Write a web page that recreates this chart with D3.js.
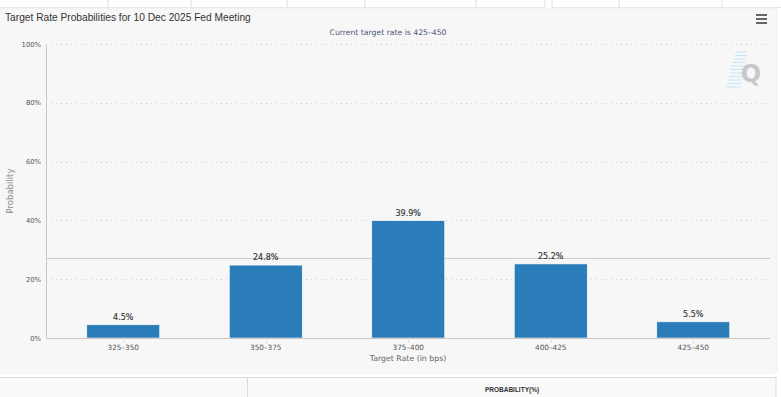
<!DOCTYPE html>
<html>
<head>
<meta charset="utf-8">
<script src="https://cdn.jsdelivr.net/npm/d3@7"></script>
<style>
  body { margin: 0; background: #fff; }
  svg { display: block; }
</style>
</head>
<body>
<div id="chart"></div>
<script>
const width = 781;
const height = 397;
const margin = { top: 44, right: 11, left: 46, bottom: 59 };

const rates = ['325-350', '350-375', '375-400', '400-425', '425-450'];
const probs = [4.5, 24.8, 39.9, 25.2, 5.5];
const yTicks = [0, 20, 40, 60, 80, 100];
const hoverLine = 27.3;
const topCells = [108, 191, 287, 365, 476, 545, 552, 619, 722];

const barColor = '#2a7db8';

const svg = d3.select('#chart')
    .append('svg')
    .attr('width', width)
    .attr('height', height);

// table strip above the chart
svg.append('rect').attr('x', 0).attr('y', 0).attr('width', width).attr('height', 8).attr('fill', '#fff');
svg.selectAll('line.cell')
    .data(topCells)
    .join('line')
    .attr('class', 'cell')
    .attr('x1', d => d).attr('x2', d => d)
    .attr('y1', 0).attr('y2', 7)
    .attr('stroke', '#ddd');
svg.append('line').attr('x1', 0).attr('x2', 545).attr('y1', 7.5).attr('y2', 7.5).attr('stroke', '#e4e4e4');
svg.append('line').attr('x1', 552).attr('x2', 781).attr('y1', 7.5).attr('y2', 7.5).attr('stroke', '#e4e4e4');

// chart panel
svg.append('rect')
    .attr('x', -2).attr('y', 8)
    .attr('width', 779).attr('height', 365)
    .attr('rx', 3)
    .attr('fill', '#f7f7f7')
    .attr('stroke', '#eeeeee');

// table below
svg.append('rect')
    .attr('x', -2).attr('y', 377.5)
    .attr('width', 778).attr('height', 30)
    .attr('fill', '#f9f9f9')
    .attr('stroke', '#dcdcdc');
svg.append('line').attr('x1', 247.5).attr('x2', 247.5).attr('y1', 378).attr('y2', 397).attr('stroke', '#dcdcdc');
svg.append('text')
    .attr('x', 512).attr('y', 392)
    .attr('text-anchor', 'middle')
    .style('font', 'bold 6.5px "Liberation Sans", Arial, sans-serif')
    .attr('fill', '#333')
    .text('PROBABILITY(%)');

const x = d3.scaleBand()
    .domain(rates)
    .range([52, 764.5])
    .paddingInner(0.488)
    .paddingOuter(0.244);

const y = d3.scaleLinear()
    .domain([0, 100])
    .range([height - margin.bottom, margin.top]);

// dotted grid
svg.append('g')
    .selectAll('line')
    .data(yTicks.filter(d => d > 0))
    .join('line')
    .attr('x1', margin.left).attr('x2', 770)
    .attr('y1', d => Math.round(y(d)) + 0.5)
    .attr('y2', d => Math.round(y(d)) + 0.5)
    .attr('stroke', '#d0d0d0')
    .attr('stroke-dasharray', '1,4');

// hover line (behind bars)
svg.append('line')
    .attr('x1', margin.left).attr('x2', 770)
    .attr('y1', Math.round(y(hoverLine)) + 0.5)
    .attr('y2', Math.round(y(hoverLine)) + 0.5)
    .attr('stroke', '#cccccc');

// y labels
svg.append('g')
    .selectAll('text')
    .data(yTicks)
    .join('text')
    .attr('x', 41)
    .attr('y', d => y(d) + 2.5)
    .attr('text-anchor', 'end')
    .style('font', '6.8px "DejaVu Sans", Verdana, sans-serif')
    .attr('fill', '#555')
    .text(d => d + '%');

svg.append('text')
    .attr('transform', `translate(13,${(y(0) + y(100)) / 2}) rotate(-90)`)
    .attr('text-anchor', 'middle')
    .style('font', '8.5px "DejaVu Sans", Verdana, sans-serif')
    .attr('fill', '#8a8a8a')
    .text('Probability');

// bars
svg.append('g')
    .selectAll('rect')
    .data(probs)
    .join('rect')
    .attr('x', (d, i) => x(rates[i]))
    .attr('y', d => y(d))
    .attr('width', x.bandwidth())
    .attr('height', d => y(0) - y(d))
    .attr('fill', barColor)
    .attr('stroke', '#ffffff')
    .attr('stroke-width', 0.6);

svg.append('g')
    .selectAll('text')
    .data(probs)
    .join('text')
    .attr('x', (d, i) => x(rates[i]) + x.bandwidth() / 2)
    .attr('y', d => y(d) - 5)
    .attr('text-anchor', 'middle')
    .style('font', '8px "DejaVu Sans", Verdana, sans-serif')
    .attr('fill', '#333')
    .attr('stroke', '#333')
    .attr('stroke-width', 0.15)
    .text(d => d.toFixed(1) + '%');

// axes lines
svg.append('line')
    .attr('x1', margin.left + 0.5).attr('x2', margin.left + 0.5)
    .attr('y1', y(100)).attr('y2', y(0))
    .attr('stroke', '#c8c8c8');
svg.append('line')
    .attr('x1', margin.left).attr('x2', 770)
    .attr('y1', y(0) + 0.5).attr('y2', y(0) + 0.5)
    .attr('stroke', '#c8c8c8');

svg.append('g')
    .selectAll('line')
    .data(rates)
    .join('line')
    .attr('x1', d => Math.round(x(d) + x.bandwidth() / 2) + 0.5)
    .attr('x2', d => Math.round(x(d) + x.bandwidth() / 2) + 0.5)
    .attr('y1', y(0)).attr('y2', y(0) + 5)
    .attr('stroke', '#dddddd');

svg.append('g')
    .selectAll('text')
    .data(rates)
    .join('text')
    .attr('x', d => x(d) + x.bandwidth() / 2)
    .attr('y', y(0) + 12)
    .attr('text-anchor', 'middle')
    .style('font', '7.3px "DejaVu Sans", Verdana, sans-serif')
    .attr('fill', '#555')
    .text(d => d.replace('-', '\u2013'));

svg.append('text')
    .attr('x', 408).attr('y', 361)
    .attr('text-anchor', 'middle')
    .style('font', '7.8px "DejaVu Sans", Verdana, sans-serif')
    .attr('fill', '#666')
    .text('Target Rate (in bps)');

// titles
svg.append('text')
    .attr('x', 5).attr('y', 21)
    .style('font', '10.2px "Liberation Sans", Arial, sans-serif')
    .attr('fill', '#333')
    .text('Target Rate Probabilities for 10 Dec 2025 Fed Meeting');

svg.append('text')
    .attr('x', 388).attr('y', 35)
    .attr('text-anchor', 'middle')
    .style('font', '7.7px "DejaVu Sans", Verdana, sans-serif')
    .attr('fill', '#4a5575')
    .text('Current target rate is 425\u2013450');

// menu icon
svg.append('g')
    .selectAll('line')
    .data([15, 19, 23])
    .join('line')
    .attr('x1', 756).attr('x2', 767)
    .attr('y1', d => d).attr('y2', d => d)
    .attr('stroke', '#555')
    .attr('stroke-width', 1.8);

// watermark
const wm = svg.append('g').attr('opacity', 0.9);
wm.selectAll('line')
    .data(d3.range(11))
    .join('line')
    .attr('x1', i => 736 - i * 1.2 + (i > 5 ? 2 : 0))
    .attr('x2', i => 747 - i * 0.6)
    .attr('y1', i => 52 + i * 3.5)
    .attr('y2', i => 52 + i * 3.5)
    .attr('stroke', '#bfe8f6')
    .attr('stroke-width', 1);
wm.append('text')
    .attr('x', 751).attr('y', 82)
    .attr('text-anchor', 'middle')
    .style('font', 'bold 24px "DejaVu Sans", sans-serif')
    .attr('fill', '#c4c4c4')
    .text('Q');
</script>
</body>
</html>
